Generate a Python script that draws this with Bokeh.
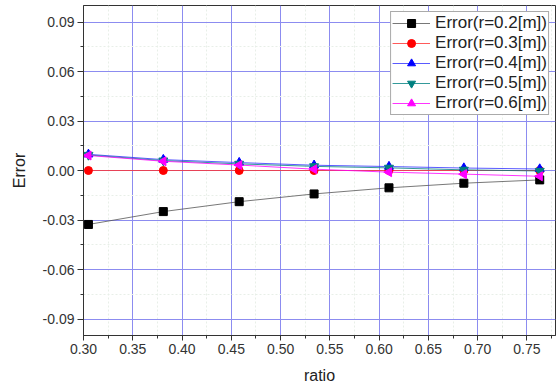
import math
from bokeh.plotting import figure
from bokeh.models import FixedTicker, Range1d, Legend, LegendItem
from bokeh.embed import file_html
from bokeh.resources import INLINE

ratio = [0.305, 0.381, 0.458, 0.534, 0.610, 0.686, 0.763]
err_r02 = [-0.0327, -0.0249, -0.0189, -0.0142, -0.0105, -0.0077, -0.0057]
err_r03 = [0.0, 0.0, 0.0, 0.0, 0.0, 0.0, 0.0]
err_r04 = [0.0098, 0.0066, 0.0048, 0.0032, 0.0024, 0.0015, 0.0009]
err_r05 = [0.0094, 0.0060, 0.0040, 0.0025, 0.0016, 0.0004, -0.0003]
err_r06 = [0.0091, 0.0056, 0.0033, 0.0008, -0.0010, -0.0022, -0.0035]
labels = ["Error(r=0.2[m])", "Error(r=0.3[m])", "Error(r=0.4[m])",
          "Error(r=0.5[m])", "Error(r=0.6[m])"]

x_major = [0.30, 0.35, 0.40, 0.45, 0.50, 0.55, 0.60, 0.65, 0.70, 0.75]
x_minor = [0.325, 0.375, 0.425, 0.475, 0.525, 0.575, 0.625, 0.675, 0.725, 0.775]
y_major = [-0.09, -0.06, -0.03, 0.0, 0.03, 0.06, 0.09]
y_minor = [-0.075, -0.045, -0.015, 0.015, 0.045, 0.075]

FONT = "Liberation Sans"

p = figure(width=558, height=389, output_backend="svg", toolbar_location=None,
           x_range=Range1d(0.30, 0.779), y_range=Range1d(-0.1, 0.1),
           min_border_left=83, min_border_right=3, min_border_top=5,
           min_border_bottom=54)

p.outline_line_color = "#333333"
p.outline_line_width = 1

for ax, maj, mn in ((p.xaxis[0], x_major, x_minor), (p.yaxis[0], y_major, y_minor)):
    ax.ticker = FixedTicker(ticks=maj, minor_ticks=mn)
    ax.major_label_text_font = FONT
    ax.major_label_text_font_size = "14px"
    ax.major_label_text_color = "#333333"
    ax.axis_label_text_font = FONT
    ax.axis_label_text_font_size = "16px"
    ax.axis_label_text_font_style = "normal"
    ax.axis_label_text_color = "#222222"
    ax.axis_line_color = "#333333"
    ax.major_tick_line_color = "#333333"
    ax.minor_tick_line_color = "#333333"
    ax.major_tick_in = 0
    ax.minor_tick_in = 0
    ax.minor_tick_out = 3
    ax.major_label_standoff = 3

p.xaxis[0].major_tick_out = 5
p.yaxis[0].major_tick_out = 6
p.xaxis[0].axis_label = "ratio"
p.yaxis[0].axis_label = "Error"
p.xaxis[0].axis_label_standoff = 10
p.yaxis[0].axis_label_standoff = 12
p.xaxis[0].major_label_overrides = {t: f"{t:.2f}" for t in x_major}
p.yaxis[0].major_label_overrides = {t: f"{t:.2f}" for t in y_major}

for g in (p.xgrid[0], p.ygrid[0]):
    g.grid_line_color = "#8c8cf0"
    g.grid_line_width = 1
    g.minor_grid_line_color = "#e8efe8"
    g.minor_grid_line_dash = "2 2"
    g.minor_grid_line_width = 1

series = [
    (err_r02, "#000000", "#555555", "square", 8, 0.0),
    (err_r03, "#ff0000", "#ff3030", "circle", 8, 0.0),
    (err_r04, "#0000ff", "#3030ff", "triangle", 9, 0.0),
    (err_r05, "#008080", "#008080", "inverted_triangle", 9, 0.0),
    (err_r06, "#ff00ff", "#ff00ff", "triangle", 9, math.pi / 2),
]

items = []
for (ys, col, lcol, mk, sz, ang), lab in zip(series, labels):
    l = p.line(ratio, ys, line_color=lcol, line_width=0.8)
    s = p.scatter(ratio, ys, marker=mk, size=sz, angle=ang,
                  fill_color=col, line_color=col)
    items.append(LegendItem(label=lab, renderers=[l, s]))

legend = Legend(items=items, location="top_right", margin=6,
                label_text_font=FONT, label_text_font_size="17px",
                label_text_color="#222222",
                glyph_width=38, glyph_height=20, label_height=17,
                label_standoff=5, spacing=0, padding=1,
                border_line_color="#555555", border_line_width=1,
                background_fill_color="white", background_fill_alpha=1)
p.add_layout(legend, "center")

open("out.html", "w").write(file_html(p, INLINE))
